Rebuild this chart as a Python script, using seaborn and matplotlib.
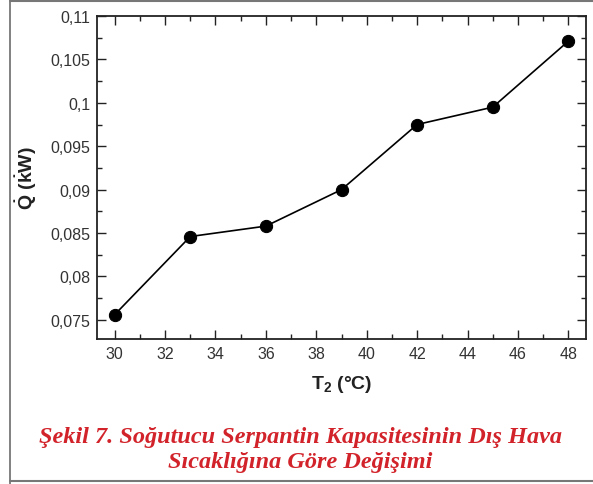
import matplotlib
matplotlib.use("Agg")
import matplotlib.pyplot as plt
import seaborn as sns
import pandas as pd
from matplotlib.ticker import MultipleLocator, FuncFormatter
from matplotlib.lines import Line2D

# Data
t2 = [30, 33, 36, 39, 42, 45, 48]
q_kw = [0.0756, 0.0846, 0.0858, 0.0900, 0.0975, 0.0995, 0.1071]
x_label = r"$\mathbf{T_2\ (°C)}$"
y_label = r"$\mathbf{\dot{Q}\ (\dot{k}W)}$"
caption = "Şekil 7. Soğutucu Serpantin Kapasitesinin Dış Hava\nSıcaklığına Göre Değişimi"

sns.set_theme(style="white")
plt.rcParams['font.family'] = ['Liberation Sans', 'DejaVu Sans']
plt.rcParams['mathtext.fontset'] = 'custom'
plt.rcParams['mathtext.rm'] = 'Liberation Sans'
plt.rcParams['mathtext.it'] = 'Liberation Sans:italic'
plt.rcParams['mathtext.bf'] = 'Liberation Sans:bold'

df = pd.DataFrame({"T2": t2, "Q": q_kw})

fig = plt.figure(figsize=(5.93, 4.85), dpi=100)
ax = fig.add_axes([0.1636, 0.299, 0.9882 - 0.1636, 0.965 - 0.299])

sns.lineplot(data=df, x="T2", y="Q", ax=ax, color="black", linewidth=1.2,
             marker="o", markersize=8.8, markeredgecolor="black",
             markerfacecolor="black")

ax.set_xlim(29.3, 48.7)
ax.set_ylim(0.0728, 0.11)
ax.xaxis.set_major_locator(MultipleLocator(2))
ax.xaxis.set_minor_locator(MultipleLocator(1))
ax.yaxis.set_major_locator(MultipleLocator(0.005))
ax.yaxis.set_minor_locator(MultipleLocator(0.0025))

def yfmt(v, pos):
    s = f"{v:.3f}".rstrip("0").rstrip(".")
    return s.replace(".", ",")
ax.yaxis.set_major_formatter(FuncFormatter(yfmt))

ax.tick_params(which="both", direction="in", top=True, right=True,
               bottom=True, left=True, color="#222222", width=1.0)
ax.tick_params(which="major", length=6.5, labelsize=11.5, labelcolor="#333333", pad=5)
ax.tick_params(which="minor", length=3.5)

for sp in ax.spines.values():
    sp.set_color("#222222")
    sp.set_linewidth(1.3)

ax.set_xlabel(x_label, fontsize=14, color="#222222", labelpad=9)
ax.set_ylabel(y_label, fontsize=14, color="#222222", labelpad=8)
ax.set_facecolor("white")

fig.text(0.506, 1 - 450 / 485, caption, ha="center", va="center",
         fontsize=17.5, fontweight="bold", fontstyle="italic",
         family=["Liberation Serif", "DejaVu Serif"], color="#d2232a",
         linespacing=1.27)

# Outer frame
fc = "#777777"
fig.add_artist(Line2D([10 / 593, 10 / 593], [0, 1], transform=fig.transFigure, color=fc, lw=1.3))
fig.add_artist(Line2D([10 / 593, 1], [1 - 2 / 485, 1 - 2 / 485], transform=fig.transFigure, color=fc, lw=1.5))
fig.add_artist(Line2D([10 / 593, 1], [1 - 482 / 485, 1 - 482 / 485], transform=fig.transFigure, color=fc, lw=1.5))

fig.savefig("out.png", dpi=100, facecolor="white")
